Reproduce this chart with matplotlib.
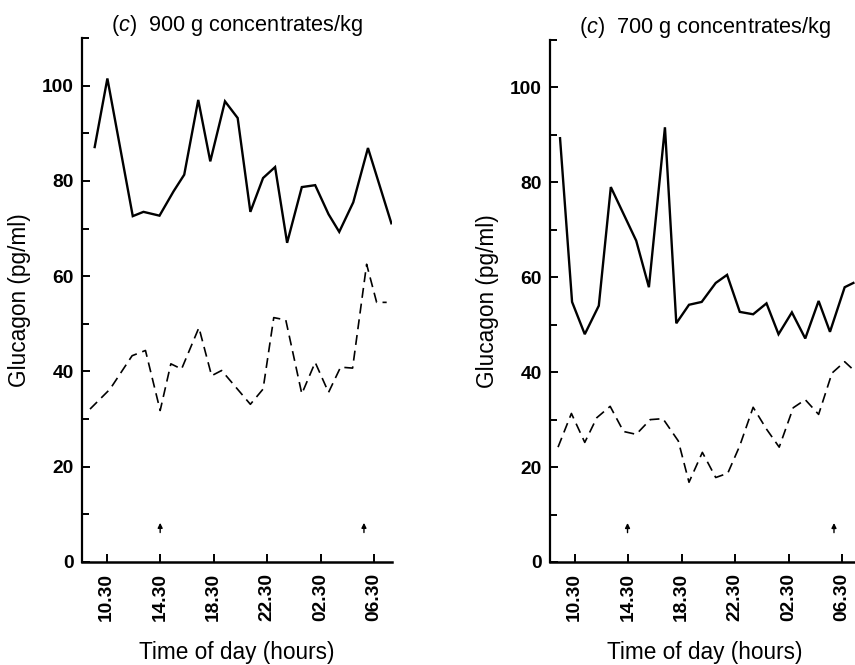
import matplotlib
matplotlib.use("Agg")
import matplotlib.pyplot as plt
from matplotlib.ticker import MultipleLocator

plt.rcParams['font.family'] = ['Liberation Sans', 'DejaVu Sans']
plt.rcParams['mathtext.fontset'] = 'custom'
plt.rcParams['mathtext.rm'] = 'Liberation Sans'
plt.rcParams['mathtext.it'] = 'Liberation Sans:italic'

# x in hours from midnight of first day (26.5 = 02.30 next day)
tick_hours = [10.5, 14.5, 18.5, 22.5, 26.5, 30.5]
tick_labels = ["10.30", "14.30", "18.30", "22.30", "02.30", "06.30"]

# (c) 900 g concentrates/kg
a_solid_h = [9.6, 10.55, 12.45, 13.25, 14.45, 15.5, 16.3, 17.35, 18.25, 19.35, 20.3,
             21.25, 22.2, 23.1, 24.0, 25.1, 26.1, 27.1, 27.9, 28.95, 30.05, 31.8]
a_solid_v = [87.1, 101.5, 72.6, 73.5, 72.7, 77.8, 81.3, 97.0, 84.1, 96.7, 93.2,
             73.5, 80.6, 82.9, 67.0, 78.7, 79.1, 73.0, 69.3, 75.5, 86.9, 71.1]
a_dash_h = [9.25, 10.75, 12.4, 13.4, 14.5, 15.3, 16.1, 17.4, 18.35, 19.1, 21.25,
            22.2, 23.0, 23.9, 25.1, 26.1, 27.1, 28.0, 28.9, 29.95, 30.7, 31.45]
a_dash_v = [32.1, 36.3, 43.3, 44.4, 31.8, 41.6, 40.5, 49.2, 39.1, 40.2, 33.1,
            36.3, 51.3, 50.8, 35.3, 41.9, 35.6, 40.9, 40.7, 62.5, 54.5, 54.5]
a_arrows = [14.5, 29.75]

# (c) 700 g concentrates/kg
b_solid_h = [9.4, 10.3, 11.25, 12.3, 13.2, 15.1, 16.05, 17.25, 18.1, 19.05, 20.0,
             21.05, 21.9, 22.85, 23.85, 24.85, 25.75, 26.75, 27.75, 28.75, 29.6,
             30.7, 31.35]
b_solid_v = [89.3, 54.8, 48.0, 54.0, 79.0, 67.7, 57.9, 91.6, 50.3, 54.2, 54.8,
             58.8, 60.5, 52.7, 52.2, 54.5, 48.0, 52.6, 47.1, 55.0, 48.5, 57.9, 58.8]
b_dash_h = [9.25, 10.25, 11.25, 12.15, 13.15, 14.15, 15.1, 16.15, 17.1, 18.25,
            19.05, 20.05, 21.05, 21.95, 22.85, 23.85, 24.85, 25.8, 26.85, 27.75,
            28.75, 29.75, 30.7, 31.35]
b_dash_v = [24.2, 31.3, 25.2, 30.4, 32.8, 27.5, 26.9, 30.0, 30.2, 25.5, 16.8,
            23.1, 17.8, 18.7, 24.5, 32.6, 28.0, 24.2, 32.5, 34.2, 31.1, 39.8,
            42.2, 40.5]
b_arrows = [14.45, 29.9]

fig = plt.figure(figsize=(8.55, 6.65), dpi=100)
ax1 = fig.add_axes([0.0959, 0.1549, 0.3626, 0.788])
ax2 = fig.add_axes([0.6433, 0.1549, 0.3626, 0.785])


def draw(ax, sh, sv, dh, dv, arrows, title):
    ax.plot(sh, sv, color="black", lw=1.7, solid_joinstyle="miter")
    ax.plot(dh, dv, color="black", lw=1.2, dashes=(6, 3.5))
    # arrows marking feeding times
    for h in arrows:
        ax.annotate("", xy=(h, 8.8), xytext=(h, 5.6),
                    arrowprops=dict(arrowstyle="-|>", color="black", lw=1.0,
                                    mutation_scale=7))
    ax.set_xlim(8.65, 31.85)
    ax.set_ylim(0, 110)
    ax.spines['top'].set_visible(False)
    ax.spines['right'].set_visible(False)
    ax.spines['left'].set_linewidth(1.6)
    ax.spines['bottom'].set_linewidth(1.8)
    ax.set_yticks([0, 20, 40, 60, 80, 100])
    ax.yaxis.set_minor_locator(MultipleLocator(10))
    ax.set_xticks(tick_hours)
    ax.set_xticklabels(tick_labels, rotation=90)
    ax.tick_params(axis='both', which='both', direction='in', width=1.4,
                   labelsize=13.8)
    ax.tick_params(axis='both', which='major', length=6)
    ax.tick_params(axis='y', which='minor', length=5)
    ax.tick_params(axis='x', pad=8)
    ax.tick_params(axis='y', pad=6)
    for lab in ax.get_xticklabels() + ax.get_yticklabels():
        lab.set_fontweight('bold')
    ax.set_ylabel("Glucagon (pg/ml)", fontsize=16.3, labelpad=8)
    ax.set_xlabel("Time of day (hours)", fontsize=16.3, labelpad=14)
    ax.set_title(title, fontsize=15.7, pad=3)


draw(ax1, a_solid_h, a_solid_v, a_dash_h, a_dash_v, a_arrows,
     r"($\mathit{c}$)  900 g concentrates/kg")
draw(ax2, b_solid_h, b_solid_v, b_dash_h, b_dash_v, b_arrows,
     r"($\mathit{c}$)  700 g concentrates/kg")

fig.savefig("out.png", dpi=100)
